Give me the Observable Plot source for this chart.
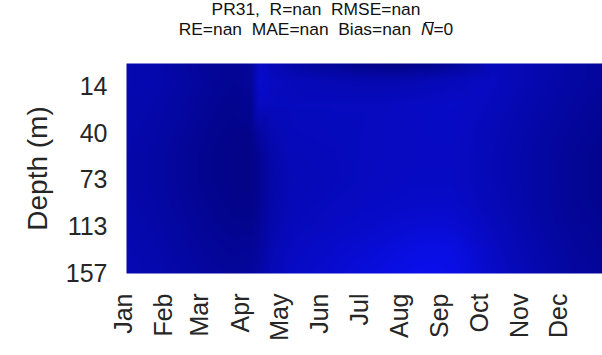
<!DOCTYPE html>
<html><head><meta charset="utf-8">
<script src="https://cdn.jsdelivr.net/npm/d3@7"></script>
<script src="https://cdn.jsdelivr.net/npm/@observablehq/plot@0.6"></script>
<style>
body{margin:0;background:#fff;}
#wrap{position:relative;width:602px;height:355px;overflow:hidden;font-family:"Liberation Sans",Arial,Helvetica,sans-serif;}
.tl{position:absolute;left:0;width:632px;text-align:center;font-size:17.4px;line-height:19px;color:#111;white-space:pre;}
#chart{position:absolute;left:0;top:0;}
.nbar{position:relative;font-style:italic;}
.nbar span{position:absolute;left:4px;top:3px;width:9px;height:1.4px;background:#111;}
</style>
</head><body>
<div id="wrap">
<div id="chart"></div>
<div class="tl" style="top:0px">PR31,  R=nan  RMSE=nan</div>
<div class="tl" style="top:19.5px">RE=nan  MAE=nan  Bias=nan  <span class="nbar">N<span></span></span>=0</div>
</div>
<script>
const months = ["Jan","Feb","Mar","Apr","May","Jun","Jul","Aug","Sep","Oct","Nov","Dec"];
const monthStarts = [1,32,60,91,121,152,182,213,244,274,305,335];
const depthLabels = [14,40,73,113,157];
const depthTickLevels = [2,6,10,14,18];
const dayCenters = [1,23,38,53,68,83,96,103,112,128,144,159,174,190,205,220,236,251,266,281,297,312,327,342,366];
const levelCenters = [0,1.5,3.5,6,8,10,12,14,16,18];
const row0 = [185,180,172,165,160,158,160,205,192,175,165,160,150,145,140,145,150,160,175,195,190,185,180,172,165];
const row1 = [185,182,175,168,160,156,162,212,202,195,190,188,185,183,183,186,190,195,198,200,192,185,178,172,165];
const row2 = [182,178,172,165,157,152,155,200,198,198,198,198,198,198,200,202,204,205,202,196,187,180,175,168,160];
const row3 = [180,175,168,160,152,148,147,170,185,195,196,197,197,199,200,201,203,203,198,190,183,176,170,163,155];
const row4 = [178,172,165,157,150,145,144,158,178,192,193,195,197,199,200,201,202,202,197,188,181,174,167,160,152];
const row5 = [178,172,165,157,150,145,144,155,175,190,192,195,197,200,201,203,203,203,197,188,181,174,167,160,152];
const row6 = [180,174,167,160,153,148,147,157,177,192,195,198,200,203,205,207,208,207,200,191,183,175,168,160,153];
const row7 = [182,177,170,163,157,152,152,162,180,195,198,202,206,210,214,218,220,218,208,197,187,178,170,163,156];
const row8 = [185,180,173,167,162,158,160,168,186,200,205,210,215,220,226,232,235,232,218,204,191,182,174,166,160];
const row9 = [188,183,176,170,166,163,165,172,190,205,210,215,222,228,234,240,242,238,224,208,194,185,177,169,163];
const rows = [row0,row1,row2,row3,row4,row5,row6,row7,row8,row9];

const points = [];
rows.forEach((r, j) => r.forEach((v, i) => points.push({day: dayCenters[i], level: levelCenters[j], v})));

const font = `"Liberation Sans", Arial, Helvetica, sans-serif`;
const chart = Plot.plot({
  width: 602, height: 355,
  marginLeft: 126, marginRight: 0, marginTop: 63, marginBottom: 82,
  style: {fontFamily: font, background: "white", color: "#262626"},
  x: {domain: [1, 366]},
  y: {domain: [0, 18], reverse: true},
  color: {type: "linear", domain: [110, 245], range: ["rgb(0,0,100)", "rgb(10,15,238)"], interpolate: "rgb"},
  marks: [
    Plot.raster(points, {x: "day", y: "level", fill: "v", interpolate: "barycentric", x1: 1, x2: 366, y1: 0, y2: 18}),
    Plot.axisY({ticks: depthTickLevels, tickFormat: d => depthLabels[depthTickLevels.indexOf(d)], tickSize: 0, tickPadding: 19, fontSize: 25, label: null}),
    Plot.axisX({ticks: monthStarts, tickFormat: d => months[monthStarts.indexOf(d)], tickRotate: -90, tickSize: 0, tickPadding: 20, fontSize: 25, label: null, dx: -3}),
    Plot.text(["Depth (m)"], {frameAnchor: "left", dx: -88, rotate: -90, fontSize: 28, textAnchor: "middle", lineAnchor: "middle", fill: "#262626"})
  ]
});
document.getElementById("chart").appendChild(chart);
</script>
</body></html>
